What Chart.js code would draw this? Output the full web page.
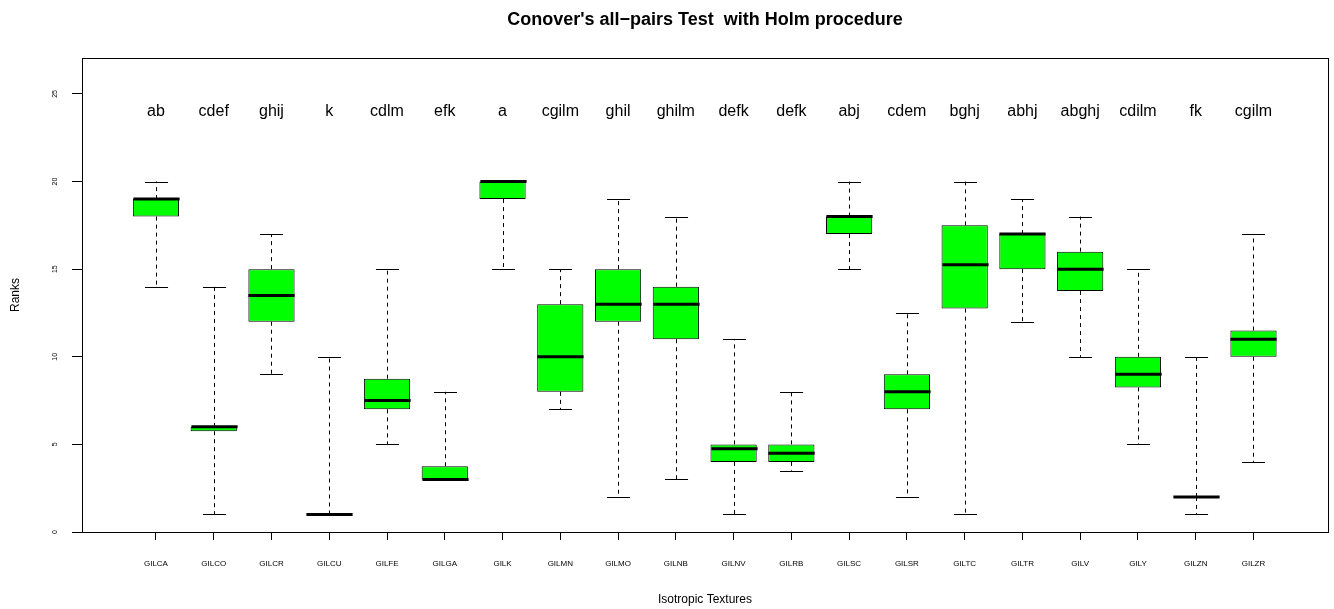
<!DOCTYPE html>
<html>
<head>
<meta charset="utf-8">
<title>Conover's all-pairs Test with Holm procedure</title>
<script src="https://cdn.jsdelivr.net/npm/chart.js@4.4.1/dist/chart.umd.min.js"></script>
<style>
	html, body { margin: 0; padding: 0; background: #fff; }
	#wrap { width: 1334px; height: 609px; }
</style>
</head>
<body>
<div id="wrap"><canvas id="myChart" width="1334" height="609"></canvas></div>
<script>
// textures on the x axis
const cats = ['GILCA', 'GILCO', 'GILCR', 'GILCU', 'GILFE', 'GILGA', 'GILK', 'GILMN', 'GILMO', 'GILNB',
	'GILNV', 'GILRB', 'GILSC', 'GILSR', 'GILTC', 'GILTR', 'GILV', 'GILY', 'GILZN', 'GILZR'];
// compact letter display above the boxes
const letters = ['ab', 'cdef', 'ghij', 'k', 'cdlm', 'efk', 'a', 'cgilm', 'ghil', 'ghilm',
	'defk', 'defk', 'abj', 'cdem', 'bghj', 'abhj', 'abghj', 'cdilm', 'fk', 'cgilm'];
// five number summaries (ranks)
const mins = [14, 1, 9, 1, 5, 3, 15, 7, 2, 3, 1, 3.5, 15, 2, 1, 12, 10, 5, 1, 4];
const q1 = [18, 5.75, 12, 1, 7, 3, 19, 8, 12, 11, 4, 4, 17, 7, 12.75, 15, 13.75, 8.25, 2, 10];
const medians = [19, 6, 13.5, 1, 7.5, 3, 20, 10, 13, 13, 4.75, 4.5, 18, 8, 15.25, 17, 15, 9, 2, 11];
const q3 = [19, 6, 15, 1, 8.75, 3.75, 20, 13, 15, 14, 5, 5, 18, 9, 17.5, 17, 16, 10, 2, 11.5];
const maxs = [20, 14, 17, 10, 15, 8, 20, 15, 19, 18, 11, 8, 20, 12.5, 20, 19, 18, 15, 10, 17];
const yTicks = [0, 5, 10, 15, 20, 25];
const letterY = 24;

const FONT = "'Liberation Sans', Arial, Helvetica, sans-serif";

// whiskers, staples, medians, letters, rotated y labels and the box frame
const boxExtras = {
	id: 'boxExtras',
	afterDatasetsDraw(chart) {
		const ctx = chart.ctx;
		const xs = chart.scales.x;
		const ys = chart.scales.y;
		const bars = chart.getDatasetMeta(0).data;
		const area = chart.chartArea;
		ctx.save();
		ctx.strokeStyle = '#000';
		for (let i = 0; i < cats.length; i++) {
			const cx = Math.round(xs.getPixelForValue(i)) + 0.5;
			const half = bars[i].width / 2;
			const yMin = ys.getPixelForValue(mins[i]);
			const yMax = ys.getPixelForValue(maxs[i]);
			const yQ1 = ys.getPixelForValue(q1[i]);
			const yQ3 = ys.getPixelForValue(q3[i]);
			const yMed = ys.getPixelForValue(medians[i]);

			// dashed whiskers
			ctx.lineWidth = 1;
			ctx.setLineDash([4, 4]);
			ctx.beginPath();
			ctx.moveTo(cx, yQ3);
			ctx.lineTo(cx, yMax);
			ctx.moveTo(cx, yQ1);
			ctx.lineTo(cx, yMin);
			ctx.stroke();
			ctx.setLineDash([]);

			// staples
			ctx.beginPath();
			ctx.moveTo(cx - half / 2, Math.round(yMax) + 0.5);
			ctx.lineTo(cx + half / 2, Math.round(yMax) + 0.5);
			ctx.moveTo(cx - half / 2, Math.round(yMin) + 0.5);
			ctx.lineTo(cx + half / 2, Math.round(yMin) + 0.5);
			ctx.stroke();

			// median
			ctx.lineWidth = 3;
			ctx.beginPath();
			ctx.moveTo(cx - half, yMed);
			ctx.lineTo(cx + half, yMed);
			ctx.stroke();
		}

		// letters
		ctx.fillStyle = '#000';
		ctx.font = '16px ' + FONT;
		ctx.textAlign = 'center';
		ctx.textBaseline = 'middle';
		for (let i = 0; i < cats.length; i++) {
			ctx.fillText(letters[i], xs.getPixelForValue(i), ys.getPixelForValue(letterY));
		}

		// y tick labels, parallel to the axis
		ctx.font = '7px ' + FONT;
		for (const t of yTicks) {
			ctx.save();
			ctx.translate(55, ys.getPixelForValue(t));
			ctx.rotate(-Math.PI / 2);
			ctx.fillText(String(t), 0, 0);
			ctx.restore();
		}

		// frame
		ctx.lineWidth = 1;
		ctx.strokeRect(Math.round(area.left) + 0.5, Math.round(area.top) + 0.5,
			Math.round(area.right - area.left), Math.round(area.bottom - area.top));
		ctx.restore();
	},
};

const createChart = function () {
	Chart.defaults.font.family = FONT;
	Chart.defaults.color = '#000';

	const data = {
		datasets: [
			{
				label: 'Ranks',
				data: cats.map((c, i) => ({ x: i, y: [q1[i], q3[i]] })),
				backgroundColor: '#00ff00',
				borderColor: '#000',
				borderWidth: 1,
				borderSkipped: false,
				barPercentage: 0.8,
				categoryPercentage: 1,
			},
		],
	};

	const config = {
		type: 'bar',
		data: data,
		plugins: [boxExtras],
		options: {
			responsive: false,
			animation: false,
			layout: { padding: { left: 0, right: 6, top: 0, bottom: 0 } },
			plugins: {
				legend: { display: false },
				tooltip: { enabled: false },
				title: {
					display: true,
					fullSize: false,
					text: "Conover's all\u2212pairs Test  with Holm procedure",
					font: { size: 18, weight: 'bold' },
					color: '#000',
					padding: { top: 9, bottom: 27.4 },
				},
			},
			scales: {
				x: {
					type: 'linear',
					min: -1.28,
					max: 20.29,
					offset: false,
					afterBuildTicks: (scale) => {
						scale.ticks = cats.map((c, i) => ({ value: i }));
					},
					afterFit: (scale) => {
						scale.height = 77;
					},
					ticks: {
						autoSkip: false,
						maxRotation: 0,
						padding: 19,
						font: { size: 8 },
						callback: (v) => cats[v],
					},
					grid: { offset: false, drawOnChartArea: false, tickLength: 8, color: '#000' },
					border: { display: true, color: '#000' },
					title: {
						display: true,
						text: 'Isotropic Textures',
						font: { size: 12 },
						padding: { top: 0, bottom: 2 },
					},
				},
				y: {
					min: 0,
					max: 27.05,
					afterBuildTicks: (scale) => {
						scale.ticks = yTicks.map((v) => ({ value: v }));
					},
					afterFit: (scale) => {
						scale.width = 82;
					},
					ticks: { display: false },
					grid: { drawOnChartArea: false, tickLength: 10, color: '#000' },
					border: { display: true, color: '#000' },
					title: {
						display: true,
						text: 'Ranks',
						font: { size: 12 },
						padding: { top: 8, bottom: 0 },
					},
				},
			},
		},
	};

	const ctx = document.getElementById('myChart');
	const myChart = new Chart(ctx, config);
};

const init = function () {
	createChart();
};
document.addEventListener('DOMContentLoaded', init);
</script>
</body>
</html>
